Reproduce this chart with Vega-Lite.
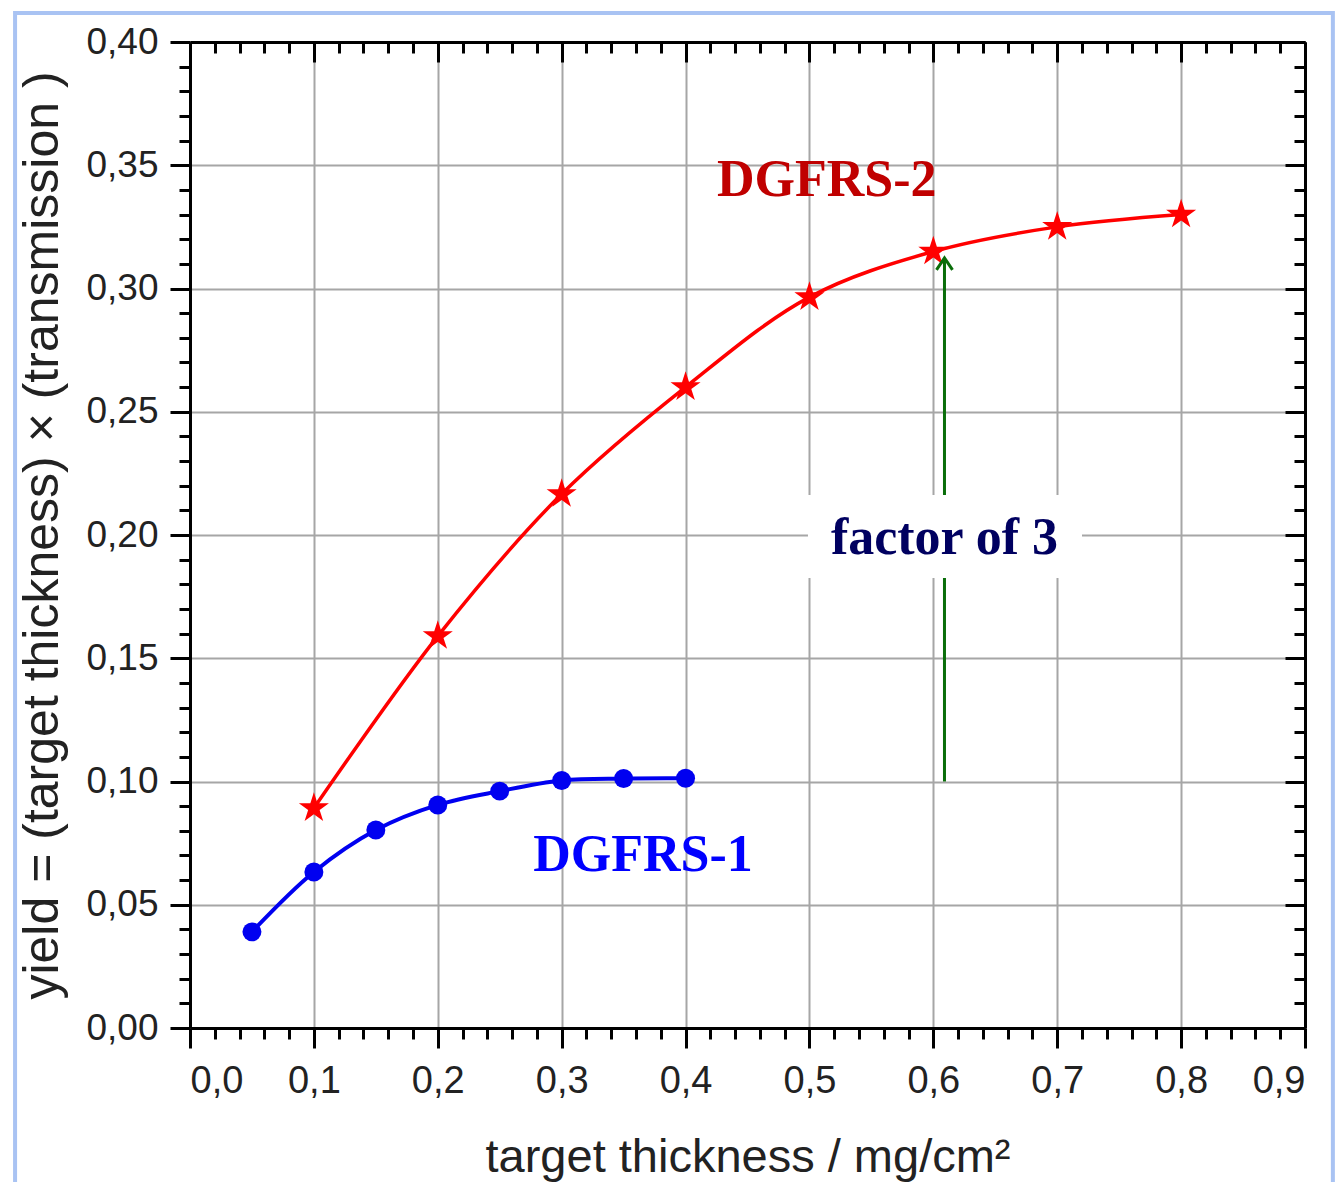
{
  "$schema": "https://vega.github.io/schema/vega-lite/v6.json",
  "width": 1115,
  "height": 986,
  "autosize": "none",
  "padding": {"left": 190, "top": 42, "right": 30, "bottom": 154},
  "background": "white",
  "config": {
    "view": {"stroke": null},
    "font": "Liberation Sans",
    "axis": {"domainColor": "black", "domainWidth": 3, "tickColor": "black", "tickWidth": 3, "labelFont": "Liberation Sans", "titleFont": "Liberation Sans", "labelColor": "#222", "titleColor": "#222", "titleFontWeight": "normal"}
  },
  "datasets": {
    "series": [
      {"thickness": 0.05, "yield": 0.039, "separator": "DGFRS-1"},
      {"thickness": 0.10, "yield": 0.0633, "separator": "DGFRS-1"},
      {"thickness": 0.15, "yield": 0.0803, "separator": "DGFRS-1"},
      {"thickness": 0.20, "yield": 0.0905, "separator": "DGFRS-1"},
      {"thickness": 0.25, "yield": 0.0961, "separator": "DGFRS-1"},
      {"thickness": 0.30, "yield": 0.1004, "separator": "DGFRS-1"},
      {"thickness": 0.35, "yield": 0.1012, "separator": "DGFRS-1"},
      {"thickness": 0.40, "yield": 0.1013, "separator": "DGFRS-1"},
      {"thickness": 0.10, "yield": 0.0892, "separator": "DGFRS-2"},
      {"thickness": 0.20, "yield": 0.159, "separator": "DGFRS-2"},
      {"thickness": 0.30, "yield": 0.2166, "separator": "DGFRS-2"},
      {"thickness": 0.40, "yield": 0.260, "separator": "DGFRS-2"},
      {"thickness": 0.50, "yield": 0.2965, "separator": "DGFRS-2"},
      {"thickness": 0.60, "yield": 0.315, "separator": "DGFRS-2"},
      {"thickness": 0.70, "yield": 0.325, "separator": "DGFRS-2"},
      {"thickness": 0.80, "yield": 0.330, "separator": "DGFRS-2"}
    ],
    "labels": [
      {"x": 0.514, "y": 0.344, "text": "DGFRS-2", "series": "DGFRS-2"},
      {"x": 0.3656, "y": 0.0702, "text": "DGFRS-1", "series": "DGFRS-1"},
      {"x": 0.609, "y": 0.1988, "text": "factor of 3", "series": "factor"}
    ],
    "arrow": [
      {"x": 0.609, "y": 0.10, "y2": 0.3124}
    ],
    "box": [
      {"x": 0.4988, "x2": 0.72, "y": 0.2162, "y2": 0.1826}
    ],
    "frame": [
      {"x": -0.1412, "x2": 0.9225, "y": 0.4118, "y2": -0.2}
    ]
  },
  "resolve": {"axis": {"x": "independent", "y": "independent"}},
  "layer": [
    {
      "data": {"name": "series"},
      "transform": [{"filter": "datum.separator === 'DGFRS-1'"}],
      "mark": {"type": "line", "color": "#0000f0", "strokeWidth": 4, "interpolate": "catmull-rom"},
      "encoding": {
        "x": {"field": "thickness", "type": "quantitative", "scale": {"domain": [0, 0.9], "nice": false, "zero": false},
          "axis": {"orient": "bottom", "values": [0, 0.1, 0.2, 0.3, 0.4, 0.5, 0.6, 0.7, 0.8, 0.9], "tickSize": 20, "labelPadding": 14, "labelFontSize": 38,
            "labelExpr": "replace(format(datum.value, '.1f'), '.', ',')", "grid": true, "gridColor": "#a6a6a6", "gridWidth": 2,
            "title": "target thickness / mg/cm²", "titleFontSize": 47, "titlePadding": 34}},
        "y": {"field": "yield", "type": "quantitative", "scale": {"domain": [0, 0.4], "nice": false, "zero": false},
          "axis": {"orient": "left", "values": [0, 0.05, 0.1, 0.15, 0.2, 0.25, 0.3, 0.35, 0.4], "tickSize": 20, "labelPadding": 12, "labelFontSize": 37,
            "labelExpr": "replace(format(datum.value, '.2f'), '.', ',')", "grid": true, "gridColor": "#a6a6a6", "gridWidth": 2,
            "title": "yield = (target thickness) × (transmission )", "titleFontSize": 50, "titlePadding": 18}}
      }
    },
    {
      "data": {"name": "series"},
      "transform": [{"filter": "datum.separator === 'DGFRS-1'"}],
      "mark": {"type": "point", "shape": "circle", "filled": true, "color": "#0000f0", "size": 360, "opacity": 1},
      "encoding": {
        "x": {"field": "thickness", "type": "quantitative",
          "axis": {"orient": "bottom", "values": [0.02, 0.04, 0.06, 0.08, 0.12, 0.14, 0.16, 0.18, 0.22, 0.24, 0.26, 0.28, 0.32, 0.34, 0.36, 0.38, 0.42, 0.44, 0.46, 0.48, 0.52, 0.54, 0.56, 0.58, 0.62, 0.64, 0.66, 0.68, 0.72, 0.74, 0.76, 0.78, 0.82, 0.84, 0.86, 0.88], "tickSize": 11, "labels": false, "grid": false, "domain": false, "title": null}},
        "y": {"field": "yield", "type": "quantitative",
          "axis": {"orient": "left", "values": [0.01, 0.02, 0.03, 0.04, 0.06, 0.07, 0.08, 0.09, 0.11, 0.12, 0.13, 0.14, 0.16, 0.17, 0.18, 0.19, 0.21, 0.22, 0.23, 0.24, 0.26, 0.27, 0.28, 0.29, 0.31, 0.32, 0.33, 0.34, 0.36, 0.37, 0.38, 0.39], "tickSize": 11, "labels": false, "grid": false, "domain": false, "title": null}}
      }
    },
    {
      "data": {"name": "series"},
      "transform": [{"filter": "datum.separator === 'DGFRS-2'"}],
      "mark": {"type": "line", "color": "#ff0000", "strokeWidth": 3.5, "interpolate": "catmull-rom"},
      "encoding": {
        "x": {"field": "thickness", "type": "quantitative",
          "axis": {"orient": "top", "values": [0, 0.1, 0.2, 0.3, 0.4, 0.5, 0.6, 0.7, 0.8, 0.9], "tickSize": -20, "labels": false, "grid": false, "title": null}},
        "y": {"field": "yield", "type": "quantitative",
          "axis": {"orient": "right", "values": [0, 0.05, 0.1, 0.15, 0.2, 0.25, 0.3, 0.35, 0.4], "tickSize": -20, "labels": false, "grid": false, "title": null}}
      }
    },
    {
      "data": {"name": "series"},
      "transform": [{"filter": "datum.separator === 'DGFRS-2'"}],
      "mark": {"type": "point", "shape": "M0,-1L0.2245,-0.309L0.951,-0.309L0.3633,0.118L0.5878,0.809L0,0.382L-0.5878,0.809L-0.3633,0.118L-0.951,-0.309L-0.2245,-0.309Z", "filled": true, "color": "#ff0000", "size": 1000, "opacity": 1},
      "encoding": {
        "x": {"field": "thickness", "type": "quantitative",
          "axis": {"orient": "top", "values": [0.02, 0.04, 0.06, 0.08, 0.12, 0.14, 0.16, 0.18, 0.22, 0.24, 0.26, 0.28, 0.32, 0.34, 0.36, 0.38, 0.42, 0.44, 0.46, 0.48, 0.52, 0.54, 0.56, 0.58, 0.62, 0.64, 0.66, 0.68, 0.72, 0.74, 0.76, 0.78, 0.82, 0.84, 0.86, 0.88], "tickSize": -11, "labels": false, "grid": false, "domain": false, "title": null}},
        "y": {"field": "yield", "type": "quantitative",
          "axis": {"orient": "right", "values": [0.01, 0.02, 0.03, 0.04, 0.06, 0.07, 0.08, 0.09, 0.11, 0.12, 0.13, 0.14, 0.16, 0.17, 0.18, 0.19, 0.21, 0.22, 0.23, 0.24, 0.26, 0.27, 0.28, 0.29, 0.31, 0.32, 0.33, 0.34, 0.36, 0.37, 0.38, 0.39], "tickSize": -11, "labels": false, "grid": false, "domain": false, "title": null}}
      }
    },
    {
      "data": {"name": "arrow"},
      "mark": {"type": "rule", "color": "#0a6e0a", "strokeWidth": 3},
      "encoding": {
        "x": {"field": "x", "type": "quantitative", "axis": null},
        "y": {"field": "y", "type": "quantitative", "axis": null},
        "y2": {"field": "y2"}
      }
    },
    {
      "data": {"name": "arrow"},
      "mark": {"type": "point", "shape": "M-1,1.5L0,0L1,1.5", "filled": false, "stroke": "#0a6e0a", "strokeWidth": 3, "size": 256, "opacity": 1},
      "encoding": {
        "x": {"field": "x", "type": "quantitative", "axis": null},
        "y": {"field": "y2", "type": "quantitative", "axis": null}
      }
    },
    {
      "data": {"name": "box"},
      "mark": {"type": "rect", "fill": "white"},
      "encoding": {
        "x": {"field": "x", "type": "quantitative", "axis": null},
        "x2": {"field": "x2"},
        "y": {"field": "y", "type": "quantitative", "axis": null},
        "y2": {"field": "y2"}
      }
    },
    {
      "data": {"name": "labels"},
      "mark": {"type": "text", "font": "Liberation Serif", "fontWeight": "bold", "fontSize": 52, "align": "center", "baseline": "middle"},
      "encoding": {
        "x": {"field": "x", "type": "quantitative", "axis": null},
        "y": {"field": "y", "type": "quantitative", "axis": null},
        "text": {"field": "text"},
        "color": {"field": "series", "type": "nominal", "scale": {"domain": ["DGFRS-2", "DGFRS-1", "factor"], "range": ["#c00000", "#0000ff", "#000060"]}, "legend": null}
      }
    },
    {
      "data": {"name": "frame"},
      "mark": {"type": "rect", "fill": null, "stroke": "#a9c3f3", "strokeWidth": 4, "clip": false},
      "encoding": {
        "x": {"field": "x", "type": "quantitative", "axis": null},
        "x2": {"field": "x2"},
        "y": {"field": "y", "type": "quantitative", "axis": null},
        "y2": {"field": "y2"}
      }
    }
  ]
}
